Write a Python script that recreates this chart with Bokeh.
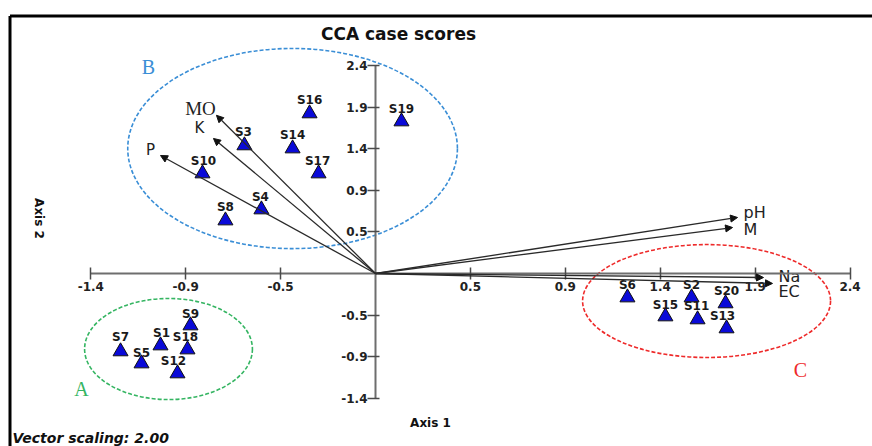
import math
from bokeh.plotting import figure
from bokeh.models import (ColumnDataSource, Range1d, LinearAxis, FixedTicker,
                          Arrow, NormalHead)
from bokeh.core.properties import value
from bokeh.embed import file_html
from bokeh.resources import INLINE

# ---------------- data ----------------
sites = ["S1", "S2", "S3", "S4", "S5", "S6", "S7", "S8", "S9", "S10",
         "S11", "S12", "S13", "S14", "S15", "S16", "S17", "S18", "S19", "S20"]
axis1 = [-1.076, 1.582, -0.656, -0.571, -1.171, 1.261, -1.276, -0.751, -0.926, -0.866,
         1.612, -0.991, 1.757, -0.415, 1.451, -0.330, -0.285, -0.941, 0.130, 1.752]
axis2 = [-0.824, -0.275, 1.465, 0.732, -1.030, -0.275, -0.892, 0.606, -0.595, 1.144,
         -0.526, -1.144, -0.629, 1.430, -0.492, 1.831, 1.144, -0.870, 1.739, -0.343]

env_vars = ["MO", "K", "P", "pH", "M", "Na", "EC"]
env_ax1 = [-0.796, -0.811, -1.076, 1.812, 1.787, 1.942, 1.987]
env_ax2 = [1.810, 1.545, 1.350, 0.641, 0.526, -0.046, -0.114]

groups = ["A", "B", "C"]
group_x = [-1.036, -0.415, 1.657]
group_y = [-0.864, 1.430, -0.315]
group_w = [0.840, 1.650, 1.241]
group_h = [1.156, 2.290, 1.293]

tick_step = 0.475
x_tick_labels = ["-1.4", "-0.9", "-0.5", "0.5", "0.9", "1.4", "1.9", "2.4"]
y_tick_labels = ["-1.4", "-0.9", "-0.5", "0.5", "0.9", "1.4", "1.9", "2.4"]
tick_index = [-3, -2, -1, 1, 2, 3, 4, 5]

# ---------------- layout helpers (pixel <-> data) ----------------
X0, Y0, SX, SY = 375.0, 273.0, 199.8, 87.4
def px2x(px):
    return (px - X0) / SX
def py2y(py):
    return (Y0 - py) / SY

W, H = 872, 446
p = figure(width=W, height=H, output_backend="svg", toolbar_location=None,
           x_range=Range1d(px2x(0), px2x(W)), y_range=Range1d(py2y(H), py2y(0)),
           x_axis_location=None, y_axis_location=None, min_border=0)
p.outline_line_color = None
p.background_fill_color = "white"
p.border_fill_color = "white"
p.grid.visible = False

# frame border (top and left edges of the picture frame)
p.segment(x0=[px2x(9.5), px2x(9.5)], y0=[py2y(15.5), py2y(15.5)],
          x1=[px2x(900), px2x(9.5)], y1=[py2y(15.5), py2y(500)],
          line_color="black", line_width=3)

# axes through origin
xt = [i * tick_step for i in tick_index]
yt = [i * tick_step for i in tick_index]
lab_font = "DejaVu Sans"
xaxis = LinearAxis(fixed_location=0, ticker=FixedTicker(ticks=xt),
                   bounds=(xt[0], xt[-1]),
                   major_label_overrides={t: l for t, l in zip(xt, x_tick_labels)})
yaxis = LinearAxis(fixed_location=0, ticker=FixedTicker(ticks=yt),
                   bounds=(yt[0], yt[-1]),
                   major_label_overrides={t: l for t, l in zip(yt, y_tick_labels)})
for ax in (xaxis, yaxis):
    ax.axis_line_color = "#6e6e6e"
    ax.axis_line_width = 2
    ax.major_tick_line_color = "#4a4a4a"
    ax.major_tick_line_width = 1.5
    ax.minor_tick_in = 0
    ax.minor_tick_out = 0
    ax.major_label_text_font = lab_font
    ax.major_label_text_font_style = "bold"
    ax.major_label_text_font_size = "12px"
    ax.major_label_text_color = "#222222"
xaxis.major_tick_in = 6
xaxis.major_tick_out = 6
xaxis.major_label_standoff = 2
yaxis.major_tick_in = 4
yaxis.major_tick_out = 8
yaxis.major_label_standoff = 0
p.add_layout(xaxis, "below")
p.add_layout(yaxis, "left")

# group ellipses
gcolors = ["#35b562", "#3a8ed6", "#ee2a2a"]
p.ellipse(x=group_x, y=group_y, width=group_w, height=group_h,
          fill_color=None, line_color=gcolors, line_dash="4 2", line_width=1.6)
p.text(x=[px2x(81), px2x(148), px2x(800)], y=[py2y(388), py2y(66), py2y(369)],
       text=groups, text_color=gcolors, text_font=value("Liberation Serif"),
       text_font_size="20px", text_align="center", text_baseline="middle")

# environmental vectors
env = ColumnDataSource(dict(x0=[0.0] * len(env_vars), y0=[0.0] * len(env_vars),
                            x1=env_ax1, y1=env_ax2, name=env_vars,
                            dx=[-16, -14, -10, 6, 11, 15, 6],
                            dy=[-7, -10, -6, -5, 2, -1, 8],
                            align=["center", "center", "center", "left", "left", "left", "left"],
                            font=["Liberation Serif", "DejaVu Sans", "DejaVu Sans",
                                  "DejaVu Sans", "DejaVu Sans", "DejaVu Sans", "DejaVu Sans"],
                            fsize=["19px", "15px", "15px", "16px", "16px", "16px", "16px"]))
p.add_layout(Arrow(source=env, x_start="x0", y_start="y0", x_end="x1", y_end="y1",
                   line_color="#2a2a2a", line_width=1.3,
                   end=NormalHead(size=7, fill_color="#111111", line_color="#111111",
                                  line_width=1)))
p.text(x="x1", y="y1", text="name", source=env, x_offset="dx", y_offset="dy",
       text_align="align", text_font="font", text_font_size="fsize",
       text_baseline="middle", text_color="#222222")

# site scores
src = ColumnDataSource(dict(x=axis1, y=axis2, name=sites,
                            dx=[1, 0, -1, -1, 0, 0, 0, 0, 0, 1,
                                -1, -4, -4, 0, 0, 0, -1, -2, 0, 1],
                            dy=[-13, -13, -13, -13, -11, -13, -14, -14, -12, -13,
                                -13, -12, -12, -14, -12, -13, -13, -13, -13, -12]))
p.scatter(x="x", y="y", source=src, marker="triangle", size=15,
          fill_color="#0a0ad8", line_color="#111111", line_width=1)
p.text(x="x", y="y", text="name", source=src, x_offset="dx", y_offset="dy",
       text_font=value(lab_font), text_font_style="bold", text_font_size="12px",
       text_align="center", text_baseline="middle", text_color="#1a1a1a")

# titles
p.text(x=[px2x(398)], y=[py2y(33)], text=["CCA case scores"], text_font=value(lab_font),
       text_font_style="bold", text_font_size="17px", text_align="center",
       text_baseline="middle", text_color="#111111")
p.text(x=[px2x(430)], y=[py2y(422)], text=["Axis 1"], text_font=value(lab_font),
       text_font_style="bold", text_font_size="12px", text_align="center",
       text_baseline="middle", text_color="#111111")
p.text(x=[px2x(38)], y=[py2y(218)], text=["Axis 2"], text_font=value(lab_font),
       text_font_style="bold", text_font_size="12px", text_align="center",
       text_baseline="middle", text_color="#111111", angle=-math.pi / 2)
p.text(x=[px2x(12)], y=[py2y(437)], text=["Vector scaling: 2.00"], text_font=value(lab_font),
       text_font_style="bold italic", text_font_size="14px", text_align="left",
       text_baseline="middle", text_color="#111111")

open("out.html", "w").write(file_html(p, INLINE))
